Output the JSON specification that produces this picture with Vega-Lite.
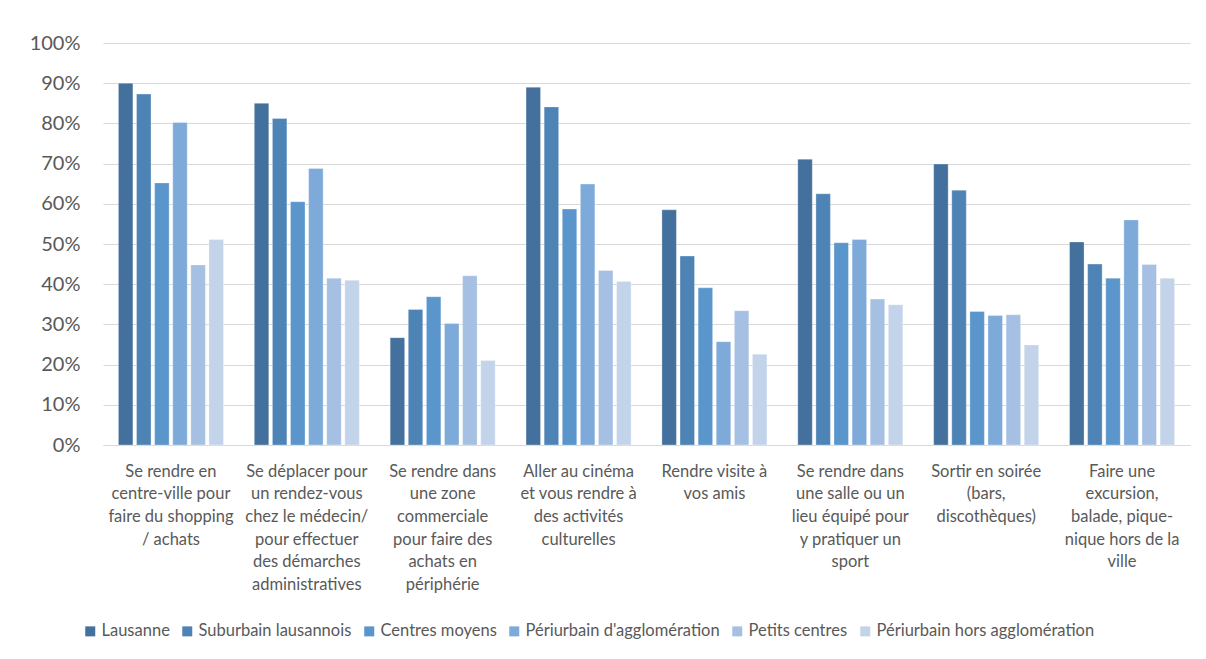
{
  "$schema": "https://vega.github.io/schema/vega-lite/v6.json",
  "width": 1087,
  "height": 402,
  "autosize": {"type": "none"},
  "padding": {"left": 103, "top": 43, "right": 16, "bottom": 214},
  "background": "white",
  "config": {"view": {"stroke": null}, "font": "Lato"},
  "datasets": {
    "parts": [
      {"activite": "Se rendre en centre-ville pour faire du shopping / achats", "zone": "Lausanne", "part": 0.900},
      {"activite": "Se rendre en centre-ville pour faire du shopping / achats", "zone": "Suburbain lausannois", "part": 0.873},
      {"activite": "Se rendre en centre-ville pour faire du shopping / achats", "zone": "Centres moyens", "part": 0.652},
      {"activite": "Se rendre en centre-ville pour faire du shopping / achats", "zone": "Périurbain d'agglomération", "part": 0.802},
      {"activite": "Se rendre en centre-ville pour faire du shopping / achats", "zone": "Petits centres", "part": 0.448},
      {"activite": "Se rendre en centre-ville pour faire du shopping / achats", "zone": "Périurbain hors agglomération", "part": 0.511},
      {"activite": "Se déplacer pour un rendez-vous chez le médecin/ pour effectuer des démarches administratives", "zone": "Lausanne", "part": 0.850},
      {"activite": "Se déplacer pour un rendez-vous chez le médecin/ pour effectuer des démarches administratives", "zone": "Suburbain lausannois", "part": 0.812},
      {"activite": "Se déplacer pour un rendez-vous chez le médecin/ pour effectuer des démarches administratives", "zone": "Centres moyens", "part": 0.605},
      {"activite": "Se déplacer pour un rendez-vous chez le médecin/ pour effectuer des démarches administratives", "zone": "Périurbain d'agglomération", "part": 0.688},
      {"activite": "Se déplacer pour un rendez-vous chez le médecin/ pour effectuer des démarches administratives", "zone": "Petits centres", "part": 0.415},
      {"activite": "Se déplacer pour un rendez-vous chez le médecin/ pour effectuer des démarches administratives", "zone": "Périurbain hors agglomération", "part": 0.410},
      {"activite": "Se rendre dans une zone commerciale pour faire des achats en périphérie", "zone": "Lausanne", "part": 0.267},
      {"activite": "Se rendre dans une zone commerciale pour faire des achats en périphérie", "zone": "Suburbain lausannois", "part": 0.337},
      {"activite": "Se rendre dans une zone commerciale pour faire des achats en périphérie", "zone": "Centres moyens", "part": 0.369},
      {"activite": "Se rendre dans une zone commerciale pour faire des achats en périphérie", "zone": "Périurbain d'agglomération", "part": 0.302},
      {"activite": "Se rendre dans une zone commerciale pour faire des achats en périphérie", "zone": "Petits centres", "part": 0.421},
      {"activite": "Se rendre dans une zone commerciale pour faire des achats en périphérie", "zone": "Périurbain hors agglomération", "part": 0.210},
      {"activite": "Aller au cinéma et vous rendre à des activités culturelles", "zone": "Lausanne", "part": 0.890},
      {"activite": "Aller au cinéma et vous rendre à des activités culturelles", "zone": "Suburbain lausannois", "part": 0.841},
      {"activite": "Aller au cinéma et vous rendre à des activités culturelles", "zone": "Centres moyens", "part": 0.587},
      {"activite": "Aller au cinéma et vous rendre à des activités culturelles", "zone": "Périurbain d'agglomération", "part": 0.649},
      {"activite": "Aller au cinéma et vous rendre à des activités culturelles", "zone": "Petits centres", "part": 0.434},
      {"activite": "Aller au cinéma et vous rendre à des activités culturelles", "zone": "Périurbain hors agglomération", "part": 0.407},
      {"activite": "Rendre visite à vos amis", "zone": "Lausanne", "part": 0.585},
      {"activite": "Rendre visite à vos amis", "zone": "Suburbain lausannois", "part": 0.470},
      {"activite": "Rendre visite à vos amis", "zone": "Centres moyens", "part": 0.391},
      {"activite": "Rendre visite à vos amis", "zone": "Périurbain d'agglomération", "part": 0.257},
      {"activite": "Rendre visite à vos amis", "zone": "Petits centres", "part": 0.334},
      {"activite": "Rendre visite à vos amis", "zone": "Périurbain hors agglomération", "part": 0.226},
      {"activite": "Se rendre dans une salle ou un lieu équipé pour y pratiquer un sport", "zone": "Lausanne", "part": 0.711},
      {"activite": "Se rendre dans une salle ou un lieu équipé pour y pratiquer un sport", "zone": "Suburbain lausannois", "part": 0.625},
      {"activite": "Se rendre dans une salle ou un lieu équipé pour y pratiquer un sport", "zone": "Centres moyens", "part": 0.503},
      {"activite": "Se rendre dans une salle ou un lieu équipé pour y pratiquer un sport", "zone": "Périurbain d'agglomération", "part": 0.511},
      {"activite": "Se rendre dans une salle ou un lieu équipé pour y pratiquer un sport", "zone": "Petits centres", "part": 0.363},
      {"activite": "Se rendre dans une salle ou un lieu équipé pour y pratiquer un sport", "zone": "Périurbain hors agglomération", "part": 0.349},
      {"activite": "Sortir en soirée (bars, discothèques)", "zone": "Lausanne", "part": 0.699},
      {"activite": "Sortir en soirée (bars, discothèques)", "zone": "Suburbain lausannois", "part": 0.634},
      {"activite": "Sortir en soirée (bars, discothèques)", "zone": "Centres moyens", "part": 0.332},
      {"activite": "Sortir en soirée (bars, discothèques)", "zone": "Périurbain d'agglomération", "part": 0.322},
      {"activite": "Sortir en soirée (bars, discothèques)", "zone": "Petits centres", "part": 0.324},
      {"activite": "Sortir en soirée (bars, discothèques)", "zone": "Périurbain hors agglomération", "part": 0.249},
      {"activite": "Faire une excursion, balade, pique-nique hors de la ville", "zone": "Lausanne", "part": 0.505},
      {"activite": "Faire une excursion, balade, pique-nique hors de la ville", "zone": "Suburbain lausannois", "part": 0.450},
      {"activite": "Faire une excursion, balade, pique-nique hors de la ville", "zone": "Centres moyens", "part": 0.415},
      {"activite": "Faire une excursion, balade, pique-nique hors de la ville", "zone": "Périurbain d'agglomération", "part": 0.560},
      {"activite": "Faire une excursion, balade, pique-nique hors de la ville", "zone": "Petits centres", "part": 0.449},
      {"activite": "Faire une excursion, balade, pique-nique hors de la ville", "zone": "Périurbain hors agglomération", "part": 0.415}
    ]
  },
  "data": {"name": "parts"},
  "mark": {"type": "bar", "stroke": "white", "strokeWidth": 0.6, "strokeOpacity": 0.5},
  "encoding": {
    "x": {
      "field": "activite",
      "type": "nominal",
      "sort": null,
      "scale": {"paddingInner": 0.227, "paddingOuter": 0.1135},
      "axis": {
        "title": null,
        "labelAngle": 0,
        "labelAlign": "center",
        "labelBaseline": "top",
        "labelPadding": 18,
        "labelFontSize": 16.5,
        "labelColor": "#595959",
        "labelLineHeight": 22.7,
        "labelLimit": 0,
        "ticks": false,
        "domainColor": "#D9D9D9",
        "domainWidth": 1,
        "labelExpr": "{'Se rendre en centre-ville pour faire du shopping / achats': ['Se rendre en', 'centre-ville pour', 'faire du shopping', '/ achats'], 'Se déplacer pour un rendez-vous chez le médecin/ pour effectuer des démarches administratives': ['Se déplacer pour', 'un rendez-vous', 'chez le médecin/', 'pour effectuer', 'des démarches', 'administratives'], 'Se rendre dans une zone commerciale pour faire des achats en périphérie': ['Se rendre dans', 'une zone', 'commerciale', 'pour faire des', 'achats en', 'périphérie'], 'Aller au cinéma et vous rendre à des activités culturelles': ['Aller au cinéma', 'et vous rendre à', 'des activités', 'culturelles'], 'Rendre visite à vos amis': ['Rendre visite à', 'vos amis'], 'Se rendre dans une salle ou un lieu équipé pour y pratiquer un sport': ['Se rendre dans', 'une salle ou un', 'lieu équipé pour', 'y pratiquer un', 'sport'], 'Sortir en soirée (bars, discothèques)': ['Sortir en soirée', '(bars,', 'discothèques)'], 'Faire une excursion, balade, pique-nique hors de la ville': ['Faire une', 'excursion,', 'balade, pique-', 'nique hors de la', 'ville']}[datum.value]"
      }
    },
    "xOffset": {
      "field": "zone",
      "type": "nominal",
      "sort": ["Lausanne", "Suburbain lausannois", "Centres moyens", "Périurbain d'agglomération", "Petits centres", "Périurbain hors agglomération"],
      "scale": {"paddingInner": 0.2, "paddingOuter": 0}
    },
    "y": {
      "field": "part",
      "type": "quantitative",
      "scale": {"domain": [0, 1]},
      "axis": {
        "title": null,
        "format": ".0%",
        "values": [0, 0.1, 0.2, 0.3, 0.4, 0.5, 0.6, 0.7, 0.8, 0.9, 1],
        "domain": false,
        "ticks": false,
        "grid": true,
        "gridColor": "#D9D9D9",
        "gridWidth": 1.2,
        "labelPadding": 23,
        "labelFontSize": 20,
        "labelColor": "#595959"
      }
    },
    "color": {
      "field": "zone",
      "type": "nominal",
      "sort": ["Lausanne", "Suburbain lausannois", "Centres moyens", "Périurbain d'agglomération", "Petits centres", "Périurbain hors agglomération"],
      "scale": {
        "domain": ["Lausanne", "Suburbain lausannois", "Centres moyens", "Périurbain d'agglomération", "Petits centres", "Périurbain hors agglomération"],
        "range": ["#43709D", "#4E83B5", "#5A95CB", "#7EAADA", "#A5C0E3", "#C3D4EA"]
      },
      "legend": {
        "title": null,
        "orient": "none",
        "legendX": -21,
        "legendY": 580,
        "direction": "horizontal",
        "columns": 6,
        "symbolType": "square",
        "symbolSize": 100,
        "symbolStrokeWidth": 0,
        "labelFontSize": 16.5,
        "labelColor": "#595959",
        "labelOffset": 3,
        "columnPadding": 9,
        "labelLimit": 0
      }
    }
  }
}
